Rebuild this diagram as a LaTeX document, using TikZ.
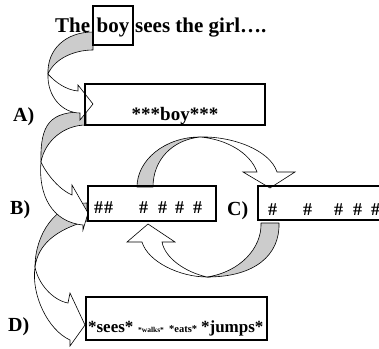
\documentclass[tikz,border=0pt]{standalone}
\usepackage{fontspec}
\setmainfont{Liberation Serif}
\newcommand{\placeat}[2]{\makebox[0pt][l]{\hspace*{#1pt}#2}}
\newcommand{\fsz}[1]{\fontsize{#1pt}{#1pt}\selectfont}
\begin{document}
\begin{tikzpicture}[x=1pt,y=-1pt,
  back/.style={fill=black!20, draw=black, line width=0.6pt, line join=round},
  front/.style={fill=white, draw=black, line width=0.6pt, line join=miter},
  box/.style={draw=black, line width=2.2pt, inner ysep=0pt, font=\bfseries},
  lab/.style={font=\fsz{20}\bfseries, anchor=base west, inner sep=0pt},
  txt/.style={font=\fsz{21}\bfseries, anchor=base west, inner sep=0pt}]
\useasboundingbox (0,0) rectangle (379,348);
\clip (0,0) rectangle (379,348);
% ---- back (grey) parts of the curved arrows
\draw[back] (93,32) .. controls (65,32) and (47,50) .. (48,74)
  .. controls (55,58) and (75,50) .. (93,50) -- cycle;
\draw[back] (86,112) .. controls (50,111) and (40,124) .. (41,162)
  .. controls (45,140) and (65,125) .. (86,125) -- cycle;
\draw[back] (87,203) .. controls (55,203) and (35,235) .. (35,267)
  .. controls (38,245) and (55,230) .. (87,221) -- cycle;
\draw[back] (137,187) .. controls (137,160) and (165,137) .. (200,137)
  .. controls (172,140) and (153,160) .. (153,187) -- cycle;
\draw[back] (261,223) -- (279,223) .. controls (280,255) and (255,277) .. (207,277)
  .. controls (240,272) and (262,248) .. (261,223) -- cycle;
% ---- front (white) parts with heads
\draw[front] (48,74) .. controls (47,96) and (62,113) .. (80,113) -- (80,120) -- (93,104)
  -- (78,85) -- (78,91) .. controls (66,90) and (55,82) .. (48,74) -- cycle;
\draw[front] (41,162) .. controls (38,195) and (52,222) .. (83,225) -- (83,230) -- (88,213)
  -- (72,185) -- (72,195) .. controls (60,190) and (47,175) .. (41,162) -- cycle;
\draw[front] (35,267) .. controls (31,295) and (48,330) .. (70,340) -- (70,346) -- (85,325)
  -- (70,293) -- (68,303) .. controls (52,300) and (38,283) .. (35,267) -- cycle;
\draw[front] (200,137) .. controls (232,136) and (270,150) .. (277,172) -- (295,172) -- (270,188)
  -- (243,172) -- (257,172) .. controls (250,152) and (225,139) .. (200,137) -- cycle;
\draw[front] (207,277) .. controls (180,277) and (148,262) .. (142,242) -- (127,242) -- (148,224)
  -- (175,242) -- (162,242) .. controls (165,258) and (185,272) .. (207,277) -- cycle;
% ---- title
\node[txt] (the) at (55,32) {The};
\node[box, anchor=base, inner xsep=0pt, minimum width=40pt, text height=26pt, text depth=13pt,
  font=\fsz{21}\bfseries] (boy) at (113,32) {boy};
\node[txt] (rest) at (135,32) {sees the girl….};
% ---- boxes
\node[box, anchor=base, inner xsep=0pt, minimum width=180pt, text height=36pt, text depth=5pt,
  font=\fsz{19}\bfseries] (A) at (175,120) {***boy***};
\node[box, anchor=base west, inner xsep=6pt, text height=27pt, text depth=8pt,
  font=\fsz{18}\bfseries] (B) at (87,213)
  {\makebox[116pt][l]{\placeat{0}{\#}\placeat{10}{\#}\placeat{45}{\#}\placeat{64}{\#}\placeat{81}{\#}\placeat{99}{\#}}};
\node[box, anchor=base west, inner xsep=6pt, text height=29pt, text depth=5pt,
  font=\fsz{18}\bfseries] (C) at (257,215)
  {\makebox[125pt][l]{\placeat{4}{\#}\placeat{39}{\#}\placeat{70}{\#}\placeat{89}{\#}\placeat{107}{\#}}};
\node[box, anchor=base west, inner xsep=2pt, text height=35pt, text depth=8pt] (D) at (85,332)
  {\makebox[177pt][l]{\placeat{0}{\fsz{17}*sees*}\placeat{50}{\fsz{7.5}*walks*}\placeat{81}{\fsz{10.5}*eats*}\placeat{113}{\fsz{17}*jumps*}}};
% ---- labels
\node[lab] (la) at (13,121) {A)};
\node[lab] (lb) at (10,214) {B)};
\node[lab] (lc) at (227,215) {C)};
\node[lab] (ld) at (8,331) {D)};
\end{tikzpicture}
\end{document}
